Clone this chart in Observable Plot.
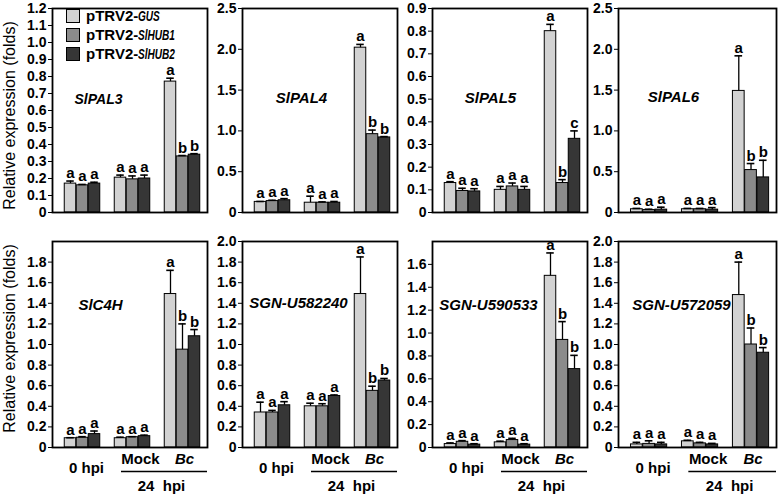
<!DOCTYPE html>
<html><head><meta charset="utf-8">
<script src="https://cdn.jsdelivr.net/npm/d3@7"></script>
<script src="https://cdn.jsdelivr.net/npm/@observablehq/plot@0.6"></script>
<style>
body{margin:0;background:#fff;}
#wrap{position:relative;width:778px;height:496px;overflow:hidden;font-family:"Liberation Sans",Arial,sans-serif;}
.panel{position:absolute;}
.legend{position:absolute;left:66px;top:6px;font-weight:bold;font-size:15px;color:#000;line-height:14px;}
.legend .row{display:flex;align-items:center;height:19px;}
.legend .sw{width:12px;height:12px;border:1.5px solid #000;margin-right:6px;}
.legend i{display:inline-block;font-size:14px;transform:scaleX(0.72);transform-origin:left center;}
</style>
</head><body>
<div id="wrap"></div>
<script>
// ---------- data ----------
const groups = ["0 hpi", "Mock", "Bc"];
const lines = ["pTRV2-GUS", "pTRV2-SlHUB1", "pTRV2-SlHUB2"];
const genes = ["SlPAL3", "SlPAL4", "SlPAL5", "SlPAL6", "SlC4H", "SGN-U582240", "SGN-U590533", "SGN-U572059"];
const timeLabel = "24  hpi";
const yLabel = "Relative expression (folds)";

// values in order: 0 hpi (GUS, SlHUB1, SlHUB2), Mock (...), Bc (...)
const meanPAL3 = [0.17, 0.16, 0.17, 0.205, 0.195, 0.20, 0.77, 0.33, 0.34];
const errPAL3 = [0.015, 0.005, 0.008, 0.015, 0.02, 0.02, 0.02, 0.005, 0.006];
const letPAL3 = ["a", "a", "a", "a", "a", "a", "a", "b", "b"];

const meanPAL4 = [0.13, 0.14, 0.15, 0.12, 0.12, 0.12, 2.02, 0.96, 0.92];
const errPAL4 = [0.005, 0.01, 0.02, 0.08, 0.01, 0.015, 0.04, 0.05, 0.01];
const letPAL4 = ["a", "a", "a", "a", "a", "a", "a", "b", "b"];

const meanPAL5 = [0.13, 0.095, 0.093, 0.10, 0.115, 0.10, 0.80, 0.13, 0.325];
const errPAL5 = [0.006, 0.012, 0.012, 0.015, 0.015, 0.015, 0.03, 0.015, 0.035];
const letPAL5 = ["a", "a", "a", "a", "a", "a", "a", "b", "c"];

const meanPAL6 = [0.04, 0.03, 0.035, 0.04, 0.04, 0.035, 1.49, 0.52, 0.43];
const errPAL6 = [0.01, 0.01, 0.03, 0.01, 0.01, 0.025, 0.43, 0.08, 0.21];
const letPAL6 = ["a", "a", "a", "a", "a", "a", "a", "b", "b"];

const meanC4H = [0.09, 0.095, 0.13, 0.09, 0.10, 0.11, 1.49, 0.95, 1.08];
const errC4H = [0.005, 0.01, 0.03, 0.01, 0.005, 0.01, 0.23, 0.25, 0.065];
const letC4H = ["a", "a", "a", "a", "a", "a", "a", "b", "b"];

const meanU582240 = [0.34, 0.34, 0.41, 0.40, 0.40, 0.50, 1.49, 0.55, 0.65];
const errU582240 = [0.10, 0.02, 0.035, 0.03, 0.025, 0.01, 0.36, 0.045, 0.02];
const letU582240 = ["a", "a", "a", "a", "a", "a", "a", "b", "b"];

const meanU590533 = [0.03, 0.05, 0.025, 0.045, 0.065, 0.025, 1.50, 0.94, 0.685];
const errU590533 = [0.01, 0.01, 0.008, 0.01, 0.015, 0.008, 0.20, 0.16, 0.12];
const letU590533 = ["a", "a", "a", "a", "a", "a", "a", "b", "b"];

const meanU572059 = [0.03, 0.035, 0.03, 0.06, 0.04, 0.03, 1.48, 1.00, 0.92];
const errU572059 = [0.02, 0.03, 0.02, 0.01, 0.01, 0.01, 0.32, 0.16, 0.05];
const letU572059 = ["a", "a", "a", "a", "a", "a", "a", "b", "b"];

// y axes
const yMax = [1.2, 2.5, 0.9, 2.5, 2.0, 2.0, 1.8, 2.0];
const ticksPAL3 = [0, 0.1, 0.2, 0.3, 0.4, 0.5, 0.6, 0.7, 0.8, 0.9, 1.0, 1.1, 1.2];
const ticksPAL4 = [0, 0.5, 1.0, 1.5, 2.0, 2.5];
const ticksPAL5 = [0, 0.1, 0.2, 0.3, 0.4, 0.5, 0.6, 0.7, 0.8, 0.9];
const ticksPAL6 = [0, 0.5, 1.0, 1.5, 2.0, 2.5];
const ticksC4H = [0, 0.2, 0.4, 0.6, 0.8, 1.0, 1.2, 1.4, 1.6, 1.8];
const ticksU582240 = [0, 0.2, 0.4, 0.6, 0.8, 1.0, 1.2, 1.4, 1.6, 1.8, 2.0];
const ticksU590533 = [0, 0.2, 0.4, 0.6, 0.8, 1.0, 1.2, 1.4, 1.6];
const ticksU572059 = [0, 0.2, 0.4, 0.6, 0.8, 1.0, 1.2, 1.4, 1.6, 1.8, 2.0];

const means = [meanPAL3, meanPAL4, meanPAL5, meanPAL6, meanC4H, meanU582240, meanU590533, meanU572059];
const errs = [errPAL3, errPAL4, errPAL5, errPAL6, errC4H, errU582240, errU590533, errU572059];
const lets = [letPAL3, letPAL4, letPAL5, letPAL6, letC4H, letU582240, letU590533, letU572059];
const ticks = [ticksPAL3, ticksPAL4, ticksPAL5, ticksPAL6, ticksC4H, ticksU582240, ticksU590533, ticksU572059];

// ---------- styling / layout ----------
const barColors = ["#d2d2d2", "#8b8b8b", "#363636"];
const PITCH = 0.24, BW = 0.23, CAP = 0.15;
const colLeft = [0, 209, 399, 589];
const colMarginLeft = [52, 33, 33, 29];
const colWidth = [209, 190, 190, 189];
const rowTop = [0, 222];
const rowHeight = [222, 274];
const rowMarginTop = [8, 19];
const rowMarginBottom = [10, 49];
const geneLabelPos = [[46, 91, 14], [59, 90, 15], [58, 90, 15], [55, 89, 15], [48, 64, 15], [56, 62, 15], [56, 64, 15], [63, 64, 15]];
const yLabelShift = [5, -6];
const fmt = d => d === 0 ? "0" : d.toFixed(1);

const wrap = document.getElementById("wrap");

genes.forEach((gene, p) => {
  const col = p % 4, row = Math.floor(p / 4);
  const rows = [];
  groups.forEach((g, gi) => lines.forEach((s, si) => {
    const k = gi * 3 + si;
    rows.push({group: g, line: s, gi, si, mean: means[p][k], err: errs[p][k], letter: lets[p][k]});
  }));
  const cx = d => d.gi + (d.si - 1) * PITCH;
  const top = d => d.mean + d.err;
  const [ldx, ldy, lfs] = geneLabelPos[p];

  const marks = [
    Plot.rect(rows, {x1: d => cx(d) - BW / 2, x2: d => cx(d) + BW / 2, y1: 0, y2: "mean", fill: "line", stroke: "black", strokeWidth: 1}),
    Plot.ruleX(rows, {x: cx, y1: "mean", y2: top, stroke: "black", strokeWidth: 1.3}),
    Plot.ruleY(rows, {y: top, x1: d => cx(d) - CAP / 2, x2: d => cx(d) + CAP / 2, stroke: "black", strokeWidth: 1.6}),
    Plot.text(rows, {x: cx, y: top, text: "letter", dy: -3, lineAnchor: "bottom", fontSize: 15, fontWeight: "bold"}),
    Plot.frame({stroke: "black", strokeWidth: 1.8}),
    Plot.text([gene], {frameAnchor: "top-left", dx: ldx, dy: ldy, textAnchor: "middle", lineAnchor: "middle", fontStyle: "italic", fontWeight: "bold", fontSize: lfs})
  ];
  if (col === 0) {
    marks.push(Plot.text([yLabel], {frameAnchor: "left", rotate: -90, dx: -43, dy: yLabelShift[row], textAnchor: "middle", lineAnchor: "middle", fontSize: 16, fontWeight: "normal"}));
  }
  if (row === 1) {
    marks.push(
      Plot.text([groups[0]], {x: d => groups.indexOf(d), frameAnchor: "bottom", dx: 4, dy: 21, lineAnchor: "middle", fontSize: 15, fontWeight: "bold"}),
      Plot.text([groups[1]], {x: d => groups.indexOf(d), frameAnchor: "bottom", dx: 8, dy: 12, lineAnchor: "middle", fontSize: 15, fontWeight: "bold"}),
      Plot.text([groups[2]], {x: d => groups.indexOf(d), frameAnchor: "bottom", dx: 2, dy: 12, lineAnchor: "middle", fontSize: 15, fontWeight: "bold", fontStyle: "italic"}),
      Plot.ruleY([0], {x1: groups.indexOf("Mock") - 0.22, x2: 2.5, dy: 24, stroke: "black", strokeWidth: 1.5}),
      Plot.text([timeLabel], {x: groups.indexOf("Mock") + 0.58, frameAnchor: "bottom", dy: 39, lineAnchor: "middle", fontSize: 15, fontWeight: "bold"})
    );
  }

  const chart = Plot.plot({
    width: colWidth[col],
    height: rowHeight[row],
    marginLeft: colMarginLeft[col],
    marginRight: 2,
    marginTop: rowMarginTop[row],
    marginBottom: rowMarginBottom[row],
    x: {domain: [-0.6, 2.5], axis: null},
    y: {domain: [0, yMax[p]], ticks: ticks[p], tickFormat: fmt, tickSize: 4, tickPadding: 2, label: null},
    color: {domain: lines, range: barColors},
    style: {fontFamily: "'Liberation Sans', Arial, sans-serif", fontSize: "14px", fontWeight: "bold", background: "transparent", overflow: "visible", whiteSpace: "pre", color: "black"},
    marks
  });
  // nudge y tick labels slightly below their ticks, as in the original figure
  chart.querySelectorAll(".tick text").forEach(t => t.setAttribute("dy", "0.45em"));
  const div = document.createElement("div");
  div.className = "panel";
  div.style.left = colLeft[col] + "px";
  div.style.top = rowTop[row] + "px";
  div.appendChild(chart);
  wrap.appendChild(div);
});

// legend (inside first panel)
const leg = document.createElement("div");
leg.className = "legend";
lines.forEach((s, i) => {
  const r = document.createElement("div");
  r.className = "row";
  const sw = document.createElement("span");
  sw.className = "sw";
  sw.style.background = barColors[i];
  r.appendChild(sw);
  const [pre, gene] = s.split("-");
  const t = document.createElement("span");
  t.innerHTML = pre + "-<i>" + gene + "</i>";
  r.appendChild(t);
  leg.appendChild(r);
});
wrap.appendChild(leg);
</script>
</body></html>
